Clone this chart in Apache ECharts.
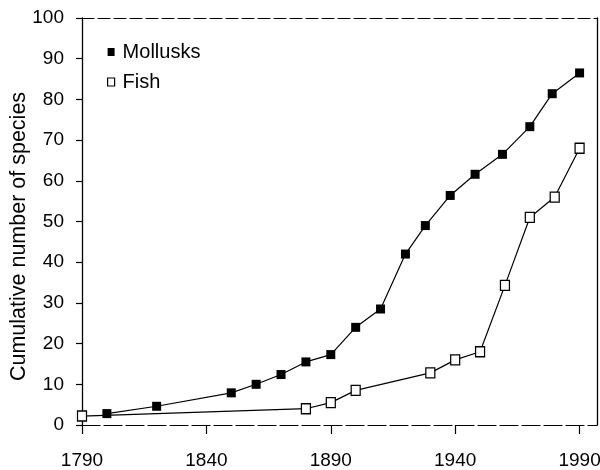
<!DOCTYPE html>
<html>
<head>
<meta charset="utf-8">
<script src="https://cdn.jsdelivr.net/npm/echarts@6/dist/echarts.min.js"></script>
<style>
  html, body { margin: 0; background: #fff; }
  #chart { width: 600px; height: 470px; }
</style>
</head>
<body>
<div id="chart"></div>
<script>
// values
const molluskYears = [1800, 1820, 1850, 1860, 1870, 1880, 1890, 1900, 1910, 1920, 1928, 1938, 1948, 1959, 1970, 1979, 1990]
const molluskCounts = [2.8, 4.6, 7.9, 10, 12.4, 15.5, 17.3, 24, 28.5, 42, 49, 56.4, 61.6, 66.5, 73.3, 81.4, 86.5]
const fishYears = [1790, 1880, 1890, 1900, 1930, 1940, 1950, 1960, 1970, 1980, 1990]
const fishCounts = [2.2, 4, 5.5, 8.5, 12.8, 16, 18, 34.3, 51, 56, 68]

const font = 'Liberation Sans, Arial, Helvetica, sans-serif'

const toPoints = (xs, ys) => xs.map((x, i) => [x, ys[i]])

const chart = echarts.init(document.getElementById('chart'))

chart.setOption({
  backgroundColor: '#fff',
  animation: false,
  grid: {left: 82, right: 3, top: 18, bottom: 45, containLabel: false, outerBoundsMode: 'none'},
  legend: {
    orient: 'vertical',
    left: 102,
    top: 37,
    itemWidth: 7,
    itemHeight: 8,
    itemGap: 10,
    textStyle: {color: '#000', fontSize: 20, fontFamily: font, padding: [0, 0, 0, 3]},
    data: [
      {name: 'Mollusks', icon: 'rect', itemStyle: {color: '#000', borderWidth: 0}},
      {name: 'Fish', icon: 'rect', itemStyle: {color: '#fff', borderColor: '#000', borderWidth: 1.2}}
    ]
  },
  xAxis: [{
    type: 'value',
    min: 1790,
    max: 1997,
    interval: 50,
    axisLine: {show: true, onZero: false, lineStyle: {color: '#000', width: 1.2, type: [18, 4]}},
    axisTick: {show: true, inside: false, length: 9, lineStyle: {color: '#000', width: 1.2}},
    axisLabel: {
      color: '#000', fontSize: 19, fontFamily: font, margin: 26, showMaxLabel: false,
      formatter: (v) => String(v)
    },
    splitLine: {show: false}
  }, {
    type: 'value',
    position: 'top',
    min: 1790,
    max: 1997,
    axisLine: {show: true, onZero: false, lineStyle: {color: '#000', width: 1.1, type: [12, 4]}},
    axisTick: {show: false},
    axisLabel: {show: false},
    splitLine: {show: false}
  }],
  yAxis: [{
    type: 'value',
    min: 0,
    max: 100,
    interval: 10,
    name: 'Cumulative number of species',
    nameLocation: 'middle',
    nameGap: 52,
    nameMoveOverlap: false,
    nameTextStyle: {color: '#000', fontSize: 21.5, fontFamily: font, padding: [0, 30, 0, 0]},
    axisLine: {show: true, onZero: false, lineStyle: {color: '#000', width: 1.3}},
    axisTick: {show: true, inside: false, length: 6, lineStyle: {color: '#000', width: 1.2}},
    axisLabel: {color: '#000', fontSize: 19, fontFamily: font, margin: 18},
    splitLine: {show: false}
  }, {
    type: 'value',
    position: 'right',
    min: 0,
    max: 100,
    axisLine: {show: true, onZero: false, lineStyle: {color: '#000', width: 1.3}},
    axisTick: {show: false},
    axisLabel: {show: false},
    splitLine: {show: false}
  }],
  series: [{
    name: 'Mollusks',
    type: 'line',
    data: toPoints(molluskYears, molluskCounts),
    symbol: 'rect',
    symbolSize: 9,
    itemStyle: {color: '#000'},
    lineStyle: {color: '#000', width: 1.2},
    z: 3
  }, {
    name: 'Fish',
    type: 'line',
    data: toPoints(fishYears, fishCounts),
    symbol: 'rect',
    symbolSize: [9, 10],
    itemStyle: {color: '#fff', borderColor: '#000', borderWidth: 1.3},
    lineStyle: {color: '#000', width: 1.2},
    z: 2
  }]
})
</script>
</body>
</html>
